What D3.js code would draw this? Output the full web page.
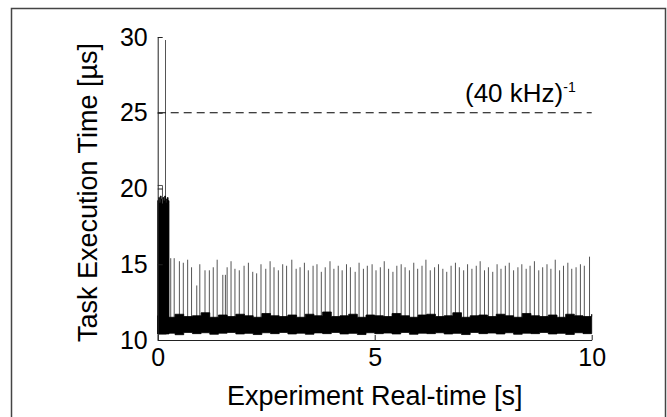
<!DOCTYPE html>
<html>
<head>
<meta charset="utf-8">
<script src="https://cdn.jsdelivr.net/npm/d3@7"></script>
<style>
  body { margin: 0; background: #fff; }
  svg { display: block; font-family: "Liberation Sans", Arial, Helvetica, sans-serif; }
</style>
</head>
<body>
<div id="chart"></div>
<script>
// axis ticks
const xTicks = [0, 5, 10]
const yTicks = [10, 15, 20, 25, 30]

// limit line: 1 / 40 kHz = 25 us
const limitValue = 25

// start-up phase (0 .. 0.26 s): dense block, its top edge
const blockTimes = [0, 0.02, 0.04, 0.06, 0.08, 0.10, 0.12, 0.14, 0.16, 0.18, 0.20, 0.22, 0.24, 0.26]
const blockTop = [19.2, 19.4, 19.1, 19.5, 19.3, 19.0, 19.4, 19.2, 19.5, 19.1, 19.3, 19.4, 19.2, 19.0]
// thin trace above the block
const outlineTimes = [0, 0.11, 0.11]
const outlineValues = [20.2, 20.2, 19.3]
// single peak during start-up
const peakTime = 0.18
const peakValue = 29.8

// steady-state noise band, envelope every 0.2 s
const noiseTimes = [0, 0.2, 0.4, 0.6, 0.8, 1.0, 1.2, 1.4, 1.6, 1.8, 2.0, 2.2, 2.4, 2.6, 2.8, 3.0, 3.2, 3.4, 3.6, 3.8,
  4.0, 4.2, 4.4, 4.6, 4.8, 5.0, 5.2, 5.4, 5.6, 5.8, 6.0, 6.2, 6.4, 6.6, 6.8, 7.0, 7.2, 7.4, 7.6, 7.8,
  8.0, 8.2, 8.4, 8.6, 8.8, 9.0, 9.2, 9.4, 9.6, 9.8, 10.0]
const noiseTop = [11.6, 11.5, 11.7, 11.55, 11.6, 11.8, 11.5, 11.65, 11.55, 11.7, 11.6, 11.5, 11.75, 11.6, 11.55, 11.65, 11.5, 11.7, 11.6, 11.85,
  11.55, 11.6, 11.7, 11.5, 11.65, 11.6, 11.55, 11.75, 11.6, 11.5, 11.65, 11.7, 11.55, 11.6, 11.8, 11.5, 11.6, 11.65, 11.55, 11.7,
  11.6, 11.5, 11.75, 11.6, 11.55, 11.65, 11.5, 11.7, 11.6, 11.55, 11.7]
const noiseBottom = [10.4, 10.45, 10.35, 10.5, 10.42, 10.48, 10.38, 10.45, 10.5, 10.4, 10.44, 10.36, 10.48, 10.42, 10.5, 10.4, 10.45, 10.38, 10.47, 10.42,
  10.5, 10.4, 10.44, 10.36, 10.48, 10.42, 10.46, 10.4, 10.5, 10.38, 10.45, 10.42, 10.48, 10.4, 10.44, 10.36, 10.5, 10.42, 10.46, 10.4,
  10.48, 10.38, 10.45, 10.42, 10.5, 10.4, 10.44, 10.37, 10.48, 10.42, 10.45]

// periodic spikes after start-up
const spikeTimes = [0.30, 0.38, 0.50, 0.59, 0.69, 0.78, 0.90, 0.97, 1.09, 1.19, 1.28, 1.37, 1.50, 1.56, 1.60, 1.69, 1.78, 1.88, 1.99, 2.09,
  2.19, 2.28, 2.38, 2.49, 2.59, 2.68, 2.78, 2.88, 2.97, 3.09, 3.19, 3.28, 3.38, 3.47, 3.58, 3.67, 3.77, 3.86, 3.97, 4.06,
  4.16, 4.25, 4.35, 4.44, 4.55, 4.64, 4.74, 4.83, 4.94, 5.03, 5.13, 5.22, 5.32, 5.42, 5.51, 5.61, 5.70, 5.80, 5.90, 5.99,
  6.09, 6.18, 6.28, 6.38, 6.47, 6.57, 6.66, 6.76, 6.86, 6.95, 7.05, 7.14, 7.24, 7.34, 7.43, 7.53, 7.62, 7.72, 7.82, 7.91,
  8.01, 8.10, 8.20, 8.30, 8.39, 8.49, 8.58, 8.68, 8.78, 8.87, 8.97, 9.06, 9.16, 9.26, 9.35, 9.45, 9.54, 9.64, 9.74, 9.83, 9.95]
const spikeValues = [15.4, 15.4, 15.2, 15.1, 15.3, 14.8, 13.6, 15.0, 14.6, 14.6, 14.8, 15.3, 14.3, 14.3, 14.8, 15.2, 14.7, 14.6, 14.9, 15.1,
  14.5, 14.4, 15.0, 14.7, 15.2, 14.8, 14.6, 15.0, 14.9, 15.3, 14.7, 14.8, 15.1, 14.6, 14.9, 15.0, 14.5, 14.8, 15.2, 14.7,
  14.9, 14.6, 15.0, 14.8, 14.5, 15.1, 14.7, 14.9, 15.0, 14.6, 14.8, 15.2, 14.7, 14.5, 14.9, 15.0, 14.8, 14.6, 15.1, 14.7,
  14.9, 15.3, 14.6, 14.8, 15.0, 14.7, 14.5, 14.9, 15.1, 14.8, 14.6, 15.0, 14.7, 14.9, 15.2, 14.6, 14.8, 14.5, 15.0, 14.7,
  14.9, 15.1, 14.6, 14.8, 15.0, 14.7, 14.9, 15.2, 14.6, 14.8, 15.0, 14.7, 15.3, 14.6, 14.9, 15.1, 14.7, 14.8, 15.0, 14.9, 15.5]

const width = 667
const height = 417
const font = '"Liberation Sans", Arial, Helvetica, sans-serif'

const svg = d3.select('#chart').append('svg')
  .attr('width', width)
  .attr('height', height)
  .style('background', '#fff')

// figure frame
svg.append('path')
  .attr('d', `M11.5,${height} L11.5,8.5 L665.5,8.5 L665.5,${height}`)
  .attr('fill', 'none')
  .attr('stroke', '#444')
  .attr('stroke-width', 1.5)

const x = d3.scaleLinear().domain([0, 10]).range([157.7, 591.7])
const y = d3.scaleLinear().domain([10, 30]).range([340, 37])

const plot = svg.append('g')

// spikes (drawn first so the noise band covers their feet)
plot.selectAll('line.spike')
  .data(d3.zip(spikeTimes, spikeValues))
  .enter()
  .append('line')
  .classed('spike', true)
  .attr('x1', d => x(d[0]))
  .attr('x2', d => x(d[0]))
  .attr('y1', y(11))
  .attr('y2', d => y(d[1]))
  .attr('stroke', '#555')
  .attr('stroke-width', 1)

plot.append('line')
  .attr('x1', x(peakTime)).attr('x2', x(peakTime))
  .attr('y1', y(19)).attr('y2', y(peakValue))
  .attr('stroke', '#555')
  .attr('stroke-width', 1)

plot.append('path')
  .datum(d3.zip(outlineTimes, outlineValues))
  .attr('d', d3.line().x(d => x(d[0])).y(d => y(d[1])))
  .attr('fill', 'none')
  .attr('stroke', '#555')
  .attr('stroke-width', 1)

// noise band
const band = d3.area()
  .curve(d3.curveStepAfter)
  .x(d => x(d[0]))
  .y0(d => y(d[2]))
  .y1(d => y(d[1]))
plot.append('path')
  .datum(d3.zip(noiseTimes, noiseTop, noiseBottom))
  .attr('d', band)
  .attr('fill', '#000')
  .attr('stroke', '#000')
  .attr('stroke-width', 0.8)

// start-up block
plot.append('path')
  .datum(d3.zip(blockTimes, blockTop))
  .attr('d', d3.area().curve(d3.curveStepAfter).x(d => x(d[0])).y0(y(10.4)).y1(d => y(d[1])))
  .attr('fill', '#000')
  .attr('stroke', '#000')
  .attr('stroke-width', 0.8)

// limit line
plot.append('line')
  .attr('x1', x(0)).attr('x2', x(10))
  .attr('y1', y(limitValue)).attr('y2', y(limitValue))
  .attr('stroke', '#000')
  .attr('stroke-width', 1.2)
  .attr('stroke-dasharray', '8,5')

const note = svg.append('text')
  .attr('x', x(7.08))
  .attr('y', y(limitValue) - 11)
  .style('font-family', font)
  .style('font-size', '26px')
  .text('(40 kHz)')
note.append('tspan')
  .attr('dy', -10)
  .style('font-size', '14px')
  .text('-1')

// axes (MATLAB style: ticks pointing inward, no box)
svg.append('g')
  .attr('transform', `translate(${x(0)},0)`)
  .call(d3.axisLeft(y).tickValues(yTicks).tickSizeInner(-5).tickSizeOuter(0).tickPadding(10))
svg.append('g')
  .attr('transform', `translate(0,${y(10)})`)
  .call(d3.axisBottom(x).tickValues(xTicks).tickSizeInner(-5).tickSizeOuter(0).tickPadding(8))

svg.selectAll('.domain, .tick line').attr('stroke', '#222').attr('stroke-width', 1)
svg.selectAll('.tick text')
  .style('font-family', font)
  .style('font-size', '25px')
  .attr('fill', '#000')

// axis titles
svg.append('text')
  .attr('transform', `translate(97,${(y(10) + y(30)) / 2 + 4}) rotate(-90)`)
  .attr('text-anchor', 'middle')
  .style('font-family', font)
  .style('font-size', '27px')
  .text('Task Execution Time [µs]')

svg.append('text')
  .attr('x', (x(0) + x(10)) / 2)
  .attr('y', 405)
  .attr('text-anchor', 'middle')
  .style('font-family', font)
  .style('font-size', '27px')
  .text('Experiment Real-time [s]')
</script>
</body>
</html>
